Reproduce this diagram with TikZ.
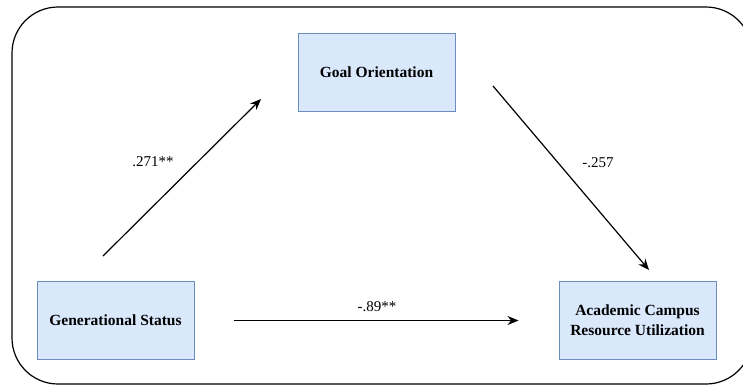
\documentclass[tikz,border=0pt]{standalone}
\usepackage{fontspec}
\setmainfont{Liberation Serif}
\usetikzlibrary{positioning,arrows.meta}
\definecolor{boxfill}{HTML}{DAE8FC}
\definecolor{boxline}{HTML}{6C8EBF}
\tikzset{var/.style={draw=boxline, fill=boxfill, line width=1pt,
    minimum width=157pt, minimum height=78pt, inner sep=0pt,
    align=center, font=\fontsize{15.5}{20}\selectfont\bfseries},
  effect/.style={-{Stealth[length=11pt,width=9pt]}, line width=1.2pt},
  coef/.style={font=\fontsize{15}{18}\selectfont, inner sep=0pt}}

\begin{document}
\begin{tikzpicture}[x=1pt, y=-1pt]
      \useasboundingbox (0,0) rectangle (743,386);
      \draw[line width=1.2pt, rounded corners=46pt] (12,7) rectangle (752,384);

      \node[var] (GO) at (376.5,72.5) {Goal Orientation};
      \node[var] (GS) at (115.5,320.5) {Generational Status};
      \node[var, right=364pt of GS] (ACRU) {Academic Campus\\Resource Utilization};

      \coordinate (GStail) at (103,256);
      \coordinate (GOhead) at (261,99);
      \coordinate (GOtail) at (493,86);
      \coordinate (ACRUhead) at (649,270);

      \draw[effect] (GStail) -- (GOhead);
      \draw[effect] (GOtail) -- (ACRUhead);
      \draw[effect, shorten <=39pt, shorten >=40pt] (GS) -- (ACRU);

      \node[coef] (a) at (153,162) {.271**};
      \node[coef] (b) at (598,163) {-.257};
      \node[coef] (c) at (377,307) {-.89**};
    \end{tikzpicture}
\end{document}
